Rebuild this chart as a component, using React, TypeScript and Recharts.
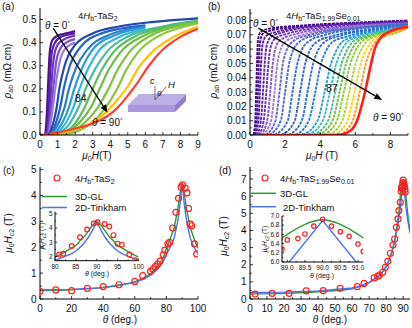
import React from "react";
import { ComposedChart, Line, XAxis, YAxis, ReferenceLine } from "recharts";

const FONT = "'Liberation Sans', Arial, Helvetica, sans-serif";

// (a) 4Hb-TaS2 : rho_ab vs mu0H, theta = 0 ... 90 deg  [H (T), rho (mOhm cm)]
const A_COLORS = [
  "#4b0c8c", "#5a1fa8", "#6a35c0", "#7b4fd0", "#9a7be0",
  "#2148b0", "#2563c0", "#2a7dcc", "#2e9ad8", "#33b5e5",
  "#3fbf9f", "#5dbb63", "#6abd45", "#7dc242", "#8cc63e",
  "#ffc20e", "#ff3b2f",
];
const A_CURVES: number[][][] = [
  [[0.3, 0], [0.4, 0.1], [0.48, 0.25], [0.56, 0.36], [0.7, 0.41], [1, 0.43], [1.5, 0.44], [2, 0.45]],
  [[0.35, 0], [0.47, 0.1], [0.56, 0.24], [0.66, 0.35], [0.85, 0.4], [1.2, 0.425], [2, 0.44]],
  [[0.4, 0], [0.55, 0.1], [0.66, 0.23], [0.78, 0.33], [1, 0.39], [1.4, 0.415], [2, 0.43]],
  [[0.45, 0], [0.63, 0.1], [0.78, 0.22], [0.93, 0.32], [1.2, 0.38], [1.6, 0.405], [2, 0.415]],
  [[0.5, 0], [0.7, 0.1], [0.9, 0.22], [1.1, 0.31], [1.4, 0.37], [2, 0.4]],
  [[0.5, 0], [0.75, 0.05], [0.95, 0.12], [1.1, 0.2], [1.4, 0.3], [2, 0.39], [3, 0.44], [4.5, 0.47], [6.5, 0.49], [9, 0.505]],
  [[0.55, 0], [0.9, 0.05], [1.15, 0.12], [1.35, 0.2], [1.7, 0.3], [2.3, 0.38], [3.5, 0.44], [6, 0.475]],
  [[0.6, 0], [1.05, 0.05], [1.4, 0.12], [1.65, 0.2], [2.05, 0.29], [2.7, 0.37], [4, 0.435], [6, 0.47]],
  [[0.7, 0], [1.25, 0.05], [1.65, 0.12], [1.95, 0.2], [2.4, 0.29], [3, 0.37], [4.2, 0.43], [6, 0.465]],
  [[0.8, 0], [1.45, 0.05], [1.9, 0.12], [2.25, 0.2], [2.7, 0.28], [3.3, 0.36], [4.4, 0.42], [6, 0.46]],
  [[0.9, 0], [1.7, 0.05], [2.2, 0.12], [2.6, 0.2], [3.1, 0.28], [3.8, 0.36], [5.1, 0.43], [7, 0.47], [9, 0.495]],
  [[1, 0], [2, 0.05], [2.55, 0.12], [3, 0.2], [3.5, 0.28], [4.2, 0.36], [5.5, 0.43], [7, 0.465], [9, 0.493]],
  [[1.1, 0], [2.2, 0.05], [2.9, 0.12], [3.4, 0.2], [3.9, 0.28], [4.6, 0.36], [5.9, 0.43], [7.5, 0.47], [9, 0.49]],
  [[1.2, 0], [2.5, 0.05], [3.3, 0.12], [3.9, 0.2], [4.4, 0.28], [5.1, 0.36], [6.3, 0.43], [7.8, 0.47], [9, 0.487]],
  [[1.3, 0], [2.9, 0.05], [3.75, 0.12], [4.4, 0.2], [4.9, 0.28], [5.6, 0.36], [6.8, 0.43], [8, 0.465], [9, 0.483]],
  [[0.8, 0], [2, 0.025], [3, 0.055], [3.9, 0.11], [4.5, 0.16], [5, 0.21], [5.6, 0.29], [6.4, 0.36], [7.5, 0.42], [9, 0.47]],
  [[0, 0], [1, 0.01], [2, 0.028], [3, 0.05], [3.9, 0.085], [4.5, 0.125], [5, 0.17], [5.5, 0.22], [6.2, 0.3], [7, 0.37], [8, 0.425], [9, 0.46]],
];

// (b) 4Hb-TaS1.99Se0.01 : rho_ab vs mu0H, theta = 0 ... 90 deg
const B_COLORS = [
  "#3d0a80", "#4a1090", "#55179f", "#6020aa", "#6e2fb8", "#8a55c8", "#a07cd8",
  "#6d63cc", "#4a6ed0", "#3b6cc8", "#3468c4", "#2f6fc8", "#2c7cd0",
  "#28a0d8", "#3cbcc0", "#4cbf80", "#6cc24a", "#8cc63f", "#b4d235",
  "#ffd21f", "#ff9a1f", "#ff1f1f",
];
const B_CURVES: number[][][] = [
  [[0.2, 0], [0.3, 0.01], [0.35, 0.03], [0.4, 0.05], [0.45, 0.066], [0.6, 0.072], [1, 0.074], [3, 0.0765], [6, 0.0785], [9, 0.08]],
  [[0.25, 0], [0.38, 0.01], [0.45, 0.03], [0.5, 0.05], [0.56, 0.064], [0.75, 0.071], [1.2, 0.073], [3, 0.076], [6, 0.078], [9, 0.0795]],
  [[0.3, 0], [0.48, 0.01], [0.56, 0.03], [0.63, 0.05], [0.7, 0.062], [0.9, 0.069], [1.5, 0.072], [4, 0.0765], [9, 0.079]],
  [[0.4, 0], [0.62, 0.01], [0.74, 0.03], [0.84, 0.05], [0.93, 0.061], [1.15, 0.068], [1.8, 0.0715], [4, 0.076], [9, 0.079]],
  [[0.5, 0], [0.78, 0.01], [0.93, 0.03], [1.05, 0.05], [1.15, 0.06], [1.4, 0.067], [2.2, 0.071], [5, 0.076], [9, 0.0785]],
  [[0.6, 0], [0.98, 0.01], [1.15, 0.03], [1.3, 0.05], [1.42, 0.059], [1.7, 0.066], [2.6, 0.0705], [5, 0.075], [9, 0.078]],
  [[0.7, 0], [1.2, 0.01], [1.4, 0.03], [1.56, 0.05], [1.7, 0.058], [2, 0.065], [3, 0.07], [5.5, 0.075], [9, 0.078]],
  [[0.9, 0], [1.45, 0.01], [1.68, 0.03], [1.87, 0.05], [2.05, 0.058], [2.4, 0.065], [3.4, 0.07], [6, 0.075], [9, 0.0775]],
  [[1.1, 0], [1.75, 0.01], [2, 0.03], [2.23, 0.05], [2.42, 0.058], [2.8, 0.065], [3.8, 0.07], [6, 0.0745], [9, 0.0775]],
  [[1.4, 0], [2.15, 0.01], [2.42, 0.03], [2.7, 0.05], [2.9, 0.058], [3.3, 0.065], [4.3, 0.07], [6.5, 0.0745], [9, 0.077]],
  [[1.8, 0], [2.55, 0.01], [2.85, 0.03], [3.15, 0.05], [3.37, 0.058], [3.8, 0.065], [4.8, 0.0695], [7, 0.074], [9, 0.077]],
  [[2.2, 0], [2.95, 0.01], [3.28, 0.03], [3.6, 0.05], [3.83, 0.058], [4.25, 0.065], [5.2, 0.0695], [7, 0.0735], [9, 0.0765]],
  [[2.6, 0], [3.35, 0.01], [3.72, 0.03], [4.05, 0.05], [4.3, 0.058], [4.7, 0.065], [5.6, 0.069], [7.5, 0.0735], [9, 0.0765]],
  [[3, 0], [3.85, 0.01], [4.25, 0.03], [4.62, 0.05], [4.88, 0.058], [5.25, 0.065], [6, 0.069], [7.5, 0.073], [9, 0.076]],
  [[3.3, 0], [4.15, 0.01], [4.55, 0.03], [4.92, 0.05], [5.18, 0.058], [5.55, 0.065], [6.3, 0.069], [7.8, 0.073], [9, 0.076]],
  [[3.6, 0], [4.45, 0.01], [4.85, 0.03], [5.22, 0.05], [5.48, 0.058], [5.85, 0.065], [6.6, 0.069], [8, 0.073], [9, 0.0755]],
  [[3.9, 0], [4.7, 0.01], [5.1, 0.03], [5.47, 0.05], [5.73, 0.058], [6.1, 0.065], [6.8, 0.069], [8, 0.0725], [9, 0.0755]],
  [[4.2, 0], [4.95, 0.01], [5.35, 0.03], [5.72, 0.05], [5.98, 0.058], [6.35, 0.065], [7, 0.069], [8.2, 0.0725], [9, 0.0755]],
  [[4.5, 0], [5.25, 0.01], [5.65, 0.03], [6.02, 0.05], [6.28, 0.058], [6.62, 0.065], [7.25, 0.069], [8.3, 0.072], [9, 0.075]],
  [[4.8, 0], [5.55, 0.01], [5.95, 0.03], [6.32, 0.05], [6.56, 0.058], [6.9, 0.065], [7.5, 0.069], [8.4, 0.072], [9, 0.075]],
  [[5.1, 0], [5.85, 0.01], [6.25, 0.03], [6.6, 0.05], [6.83, 0.058], [7.15, 0.065], [7.7, 0.069], [8.5, 0.072], [9, 0.075]],
  [[0.7, 0], [5, 0], [5.6, 0.002], [6.1, 0.01], [6.55, 0.03], [6.9, 0.05], [7.1, 0.06], [7.45, 0.068], [8, 0.0725], [9, 0.0755]],
];

// (c) 4Hb-TaS2 : Hc2(theta)
const C_ANG = [0, 10, 20, 30, 40, 50, 60, 65, 70, 71.5, 73, 74.5, 76, 78, 79, 81, 82, 84, 86, 87.7, 89.3, 90.2, 91.9, 93, 94, 95, 96, 97.8, 99.2];
const C_HC2 = [0.3, 0.35, 0.32, 0.41, 0.48, 0.55, 0.68, 0.9, 1.07, 1.16, 1.25, 1.35, 1.46, 1.71, 1.89, 2.13, 2.19, 2.74, 3.35, 3.89, 4.32, 4.41, 4.28, 4.1, 3.5, 2.9, 2.83, 2.13, 1.74];
const C_FIT_ANG = [0, 20, 40, 50, 60, 65, 70, 75, 78, 80, 82, 84, 85, 86, 87, 88, 89, 90, 91, 92, 93, 94, 95, 96, 98, 100];
const C_GL = [0.33, 0.36, 0.45, 0.54, 0.67, 0.8, 0.98, 1.3, 1.6, 1.95, 2.25, 2.6, 2.77, 3.1, 3.4, 3.8, 4.2, 4.42, 4.2, 3.8, 3.4, 3.1, 2.77, 2.6, 2.25, 1.95];
const C_TK = [0.35, 0.37, 0.44, 0.52, 0.64, 0.75, 0.92, 1.2, 1.45, 1.72, 1.95, 2.2, 2.38, 2.65, 2.95, 3.35, 3.85, 4.5, 3.85, 3.35, 2.95, 2.65, 2.38, 2.2, 1.95, 1.72];

// (d) 4Hb-TaS1.99Se0.01 : Hc2(theta)
const D_ANG = [3, 13, 23, 33, 43, 53, 63, 67, 73, 75, 76, 78, 79.5, 81, 82.5, 84, 85, 86, 87, 87.5, 88.3, 88.85, 89, 89.3, 89.5, 89.75, 90, 90.25, 90.5, 90.75, 91, 91.15];
const D_HC2 = [0.29, 0.33, 0.33, 0.47, 0.49, 0.62, 0.72, 0.91, 1.23, 1.32, 1.4, 1.56, 1.85, 2.2, 2.67, 3.15, 3.5, 4.18, 4.67, 5.16, 5.64, 6.28, 6.48, 6.51, 6.61, 6.78, 6.93, 6.78, 6.66, 6.56, 6.39, 6.23];
const D_GL_ANG = [0, 20, 40, 60, 65, 70, 75, 78, 80, 82, 84, 85, 86, 87, 88, 88.5, 88.85, 89, 89.5, 90, 90.5, 91, 91.15, 91.5, 92, 93, 94];
const D_GL = [0.3, 0.33, 0.42, 0.6, 0.75, 0.95, 1.3, 1.6, 1.9, 2.35, 3.0, 3.45, 4.0, 4.7, 5.6, 6.2, 6.52, 6.6, 6.82, 6.92, 6.82, 6.6, 6.52, 6.2, 5.6, 4.7, 4.0];
const D_TK_ANG = [0, 20, 40, 60, 65, 70, 75, 78, 80, 82, 84, 85, 86, 87, 88, 89, 90, 91, 92, 93, 94];
const D_TK = [0.38, 0.4, 0.47, 0.64, 0.76, 0.97, 1.3, 1.6, 1.9, 2.35, 2.95, 3.35, 3.85, 4.4, 5.05, 5.95, 6.9, 5.95, 5.05, 4.4, 3.85];

const RED = "#ff2020";
const GREEN = "#2e9a2e";
const BLUE = "#4a72f5";

const pairs = (c: number[][]) => c.map(([x, y]) => ({ x, y }));
const zip = (xs: number[], ys: number[]) => xs.map((x, i) => ({ x, y: ys[i] }));
const isMaj = (major: number[], v: number) => major.some((t) => Math.abs(t - v) < 1e-9);

type TickOpts = { major: number[]; fmt: (v: number) => string; fs?: number; m: number; len?: number };

// custom ticks: short inward tick marks, labels only on major values
function xTick({ major, fmt, fs = 10, m, len = 3 }: TickOpts) {
  return (p: any) => {
    const v = Number(p.payload.value);
    const big = isMaj(major, v);
    const y0 = p.y - m;
    return (
      <g>
        <line x1={p.x} x2={p.x} y1={y0} y2={y0 - (big ? len : len * 0.6)} stroke="#000" strokeWidth={0.8} />
        {big && (
          <text x={p.x} y={p.y} textAnchor="middle" fontSize={fs} fontFamily={FONT} fill="#111">
            {fmt(v)}
          </text>
        )}
      </g>
    );
  };
}

function yTick({ major, fmt, fs = 10, m, len = 3 }: TickOpts) {
  return (p: any) => {
    const v = Number(p.payload.value);
    const big = isMaj(major, v);
    const x0 = p.x + m;
    return (
      <g>
        <line x1={x0} x2={x0 + (big ? len : len * 0.6)} y1={p.y} y2={p.y} stroke="#000" strokeWidth={0.8} />
        {big && (
          <text x={p.x} y={p.y} dy="0.35em" textAnchor="end" fontSize={fs} fontFamily={FONT} fill="#111">
            {fmt(v)}
          </text>
        )}
      </g>
    );
  };
}

const Arrow = (p: any) => {
  const { x1, y1, x2, y2 } = p;
  const a = Math.atan2(y2 - y1, x2 - x1);
  const L = 8;
  const W = 3.2;
  const bx = x2 - L * Math.cos(a);
  const by = y2 - L * Math.sin(a);
  const pts = `${x2},${y2} ${bx - W * Math.sin(a)},${by + W * Math.cos(a)} ${bx + W * Math.sin(a)},${by - W * Math.cos(a)}`;
  return (
    <g>
      <line x1={x1} y1={y1} x2={bx} y2={by} stroke="#000" strokeWidth={1.3} />
      <polygon points={pts} fill="#000" />
    </g>
  );
};

const frame = (xd: number[], yd: number[]) => [
  <XAxis key="ft" xAxisId="top" orientation="top" type="number" domain={xd} tick={false} tickLine={false} height={0} axisLine={{ stroke: "#000" }} />,
  <YAxis key="fr" yAxisId="right" orientation="right" type="number" domain={yd} tick={false} tickLine={false} width={0} axisLine={{ stroke: "#000" }} />,
];

const range = (a: number, b: number, s: number) => {
  const out: number[] = [];
  for (let v = a; v <= b + 1e-9; v += s) out.push(Math.round(v * 1000) / 1000);
  return out;
};

function PanelA() {
  return (
    <ComposedChart width={206} height={164} margin={{ top: 8, right: 8, bottom: 0, left: 0 }}>
      <XAxis dataKey="x" type="number" domain={[0, 9]} ticks={range(0, 9, 0.5)} interval={0} tickSize={0} tickMargin={13} tickLine={false}
        height={29} axisLine={{ stroke: "#000" }} allowDataOverflow
        tick={xTick({ major: range(0, 9, 1), fmt: (v) => String(v), m: 13 })} />
      <YAxis type="number" domain={[0, 0.55]} ticks={range(0, 0.5, 0.05)} interval={0} tickSize={0} tickMargin={3.5} tickLine={false}
        width={40} axisLine={{ stroke: "#000" }} allowDataOverflow
        tick={yTick({ major: range(0, 0.5, 0.1), fmt: (v) => v.toFixed(1), m: 3.5 })} />
      {frame([0, 9], [0, 0.55])}
      {A_CURVES.map((c, i) => (
        <Line key={i} data={pairs(c)} dataKey="y" type="monotone" stroke={A_COLORS[i]} strokeWidth={2.2}
          dot={false} isAnimationActive={false} />
      ))}
      <ReferenceLine segment={[{ x: 0.76, y: 0.462 }, { x: 3.85, y: 0.096 }]} shape={Arrow} ifOverflow="visible" />
    </ComposedChart>
  );
}

function PanelB() {
  return (
    <ComposedChart width={206} height={164} margin={{ top: 9, right: 4, bottom: 0, left: 0 }}>
      <XAxis dataKey="x" type="number" domain={[0, 9]} ticks={range(0, 9, 1)} interval={0} tickSize={0} tickMargin={13} tickLine={false}
        height={29} axisLine={{ stroke: "#000" }} allowDataOverflow
        tick={xTick({ major: [0, 2, 4, 6, 8], fmt: (v) => String(v), m: 13 })} />
      <YAxis type="number" domain={[0, 0.088]} ticks={range(0, 0.085, 0.005)} interval={0} tickSize={0} tickMargin={3.5} tickLine={false}
        width={44} axisLine={{ stroke: "#000" }} allowDataOverflow
        tick={yTick({ major: range(0, 0.08, 0.01), fmt: (v) => v.toFixed(2), m: 3.5 })} />
      {frame([0, 9], [0, 0.088])}
      {B_CURVES.map((c, i) => {
        const last = i === B_CURVES.length - 1;
        return (
          <Line key={i} data={pairs(c)} dataKey="y" type="monotone" stroke={B_COLORS[i]} strokeWidth={last ? 2.6 : 1.9}
            strokeDasharray={last ? undefined : "3 1"} dot={false} isAnimationActive={false} />
        );
      })}
      <ReferenceLine segment={[{ x: 0.48, y: 0.0746 }, { x: 7.53, y: 0.0245 }]} shape={Arrow} ifOverflow="visible" />
    </ComposedChart>
  );
}

function HcChart(props: {
  w: number; h: number; margin: any; yw: number; xh: number; xd: number[]; yd: number[];
  xt: number[]; xmaj: number[]; yt: number[]; ymaj: number[]; xfmt: (v: number) => string; yfmt: (v: number) => string;
  fs: number; xm: number; ym: number; len: number; ang: number[]; val: number[]; glA: number[]; gl: number[]; tkA: number[]; tk: number[]; r: number;
}) {
  const p = props;
  return (
    <ComposedChart width={p.w} height={p.h} margin={p.margin}>
      <XAxis dataKey="x" type="number" domain={p.xd} ticks={p.xt} interval={0} tickSize={0} tickMargin={p.xm} tickLine={false}
        height={p.xh} axisLine={{ stroke: "#000" }} allowDataOverflow
        tick={xTick({ major: p.xmaj, fmt: p.xfmt, fs: p.fs, m: p.xm, len: p.len })} />
      <YAxis type="number" domain={p.yd} ticks={p.yt} interval={0} tickSize={0} tickMargin={p.ym} tickLine={false}
        width={p.yw} axisLine={{ stroke: "#000" }} allowDataOverflow
        tick={yTick({ major: p.ymaj, fmt: p.yfmt, fs: p.fs, m: p.ym, len: p.len })} />
      {frame(p.xd, p.yd)}
      <Line data={zip(p.glA, p.gl)} dataKey="y" type="monotone" stroke={GREEN} strokeWidth={1.4} dot={false} isAnimationActive={false} />
      <Line data={zip(p.tkA, p.tk)} dataKey="y" type="linear" stroke={BLUE} strokeWidth={1.4} dot={false} isAnimationActive={false} />
      <Line data={zip(p.ang, p.val)} dataKey="y" stroke="none" strokeWidth={0} isAnimationActive={false}
        dot={{ r: p.r, fill: "none", stroke: RED, strokeWidth: 1.2 }} />
    </ComposedChart>
  );
}

const T = (props: any) => <text fontFamily={FONT} fill="#111" {...props} />;
const I = (props: any) => <tspan fontStyle="italic" {...props} />;

function Overlay() {
  return (
    <svg width={412} height={328} style={{ position: "absolute", left: 0, top: 0, pointerEvents: "none" }}>
      {/* panel letters */}
      <T x={2} y={10} fontSize={10}>(a)</T>
      <T x={208} y={10} fontSize={10}>(b)</T>
      <T x={3} y={174} fontSize={10}>(c)</T>
      <T x={219} y={174} fontSize={10}>(d)</T>

      {/* (a) */}
      <T x={78} y={18.5} fontSize={9.5}>4<I>H</I><tspan fontSize={7} dy={2}>b</tspan><tspan dy={-2}>-TaS</tspan><tspan fontSize={7} dy={2}>2</tspan></T>
      <T x={45} y={28.5} fontSize={10}><I>θ</I> = 0<tspan fontSize={6} dy={-4}>°</tspan></T>
      <T x={92} y={125.5} fontSize={10}><I>θ</I> = 90<tspan fontSize={6} dy={-4}>°</tspan></T>
      <T x={75} y={101.5} fontSize={10.5}>84</T>
      <T x={97} y={159} fontSize={10} textAnchor="middle"><I>μ</I><tspan fontSize={7} dy={2}>0</tspan><I dy={-2}>H</I>(T)</T>
      <T transform="translate(11,71) rotate(-90)" fontSize={10} textAnchor="middle"><I>ρ</I><tspan fontSize={7} dy={2}>ab</tspan><tspan dy={-2}> (mΩ cm)</tspan></T>
      {/* sample sketch */}
      <polygon points="128,105 139,94 186,94 175,105" fill="#bcaee6" />
      <polygon points="128,105 175,105 175,112 128,112" fill="#a996dc" />
      <polygon points="175,105 186,94 186,101 175,112" fill="#9380cc" />
      <line x1={155} y1={100} x2={155} y2={86} stroke="#555" strokeWidth={0.8} />
      <line x1={155} y1={100} x2={166} y2={87} stroke="#555" strokeWidth={0.8} />
      <T x={150} y={84} fontSize={9} fontStyle="italic">c</T>
      <T x={168} y={88} fontSize={9.5} fontStyle="italic">H</T>
      <T x={157} y={96} fontSize={8} fontStyle="italic">θ</T>

      {/* (b) */}
      <T x={286} y={18.5} fontSize={9.5}>4<I>H</I><tspan fontSize={7} dy={2}>b</tspan><tspan dy={-2}>-TaS</tspan><tspan fontSize={7} dy={2}>1.99</tspan><tspan dy={-2}>Se</tspan><tspan fontSize={7} dy={2}>0.01</tspan></T>
      <T x={253} y={26.5} fontSize={10}><I>θ</I> = 0<tspan fontSize={6} dy={-4}>°</tspan></T>
      <T x={373} y={121} fontSize={10}><I>θ</I> = 90<tspan fontSize={6} dy={-4}>°</tspan></T>
      <T x={326} y={92} fontSize={10.5}>87</T>
      <T x={322} y={159} fontSize={10} textAnchor="middle"><I>μ</I><tspan fontSize={7} dy={2}>0</tspan><I dy={-2}>H</I> (T)</T>
      <T transform="translate(217,71) rotate(-90)" fontSize={10} textAnchor="middle"><I>ρ</I><tspan fontSize={7} dy={2}>ab</tspan><tspan dy={-2}> (mΩ cm)</tspan></T>

      {/* (c) */}
      <circle cx={57} cy={178} r={3} fill="none" stroke={RED} strokeWidth={1.2} />
      <T x={75} y={181.5} fontSize={9.5}>4<I>H</I><tspan fontSize={7} dy={2}>b</tspan><tspan dy={-2}>-TaS</tspan><tspan fontSize={7} dy={2}>2</tspan></T>
      <line x1={42} x2={67} y1={196.5} y2={196.5} stroke={GREEN} strokeWidth={1.5} />
      <T x={75} y={200} fontSize={9.5}>3D-GL</T>
      <line x1={42} x2={67} y1={207.5} y2={207.5} stroke={BLUE} strokeWidth={1.5} />
      <T x={75} y={211} fontSize={9.5}>2D-Tinkham</T>
      <T x={120} y={323} fontSize={10} textAnchor="middle"><I>θ</I> (deg.)</T>
      <T transform="translate(12,233) rotate(-90)" fontSize={10} textAnchor="middle"><I>μ</I><tspan fontSize={7} dy={2}>0</tspan><I dy={-2}>H</I><tspan fontSize={7} dy={2}>c2</tspan><tspan dy={-2}> (T)</tspan></T>
      <T x={97} y={276} fontSize={7} textAnchor="middle"><I>θ</I> (deg.)</T>
      <T transform="translate(44,236) rotate(-90)" fontSize={6.5} textAnchor="middle"><I>μ</I><tspan fontSize={5} dy={1.5}>0</tspan><I dy={-1.5}>H</I><tspan fontSize={5} dy={1.5}>c2</tspan><tspan dy={-1.5}> (T)</tspan></T>

      {/* (d) */}
      <circle cx={265} cy={178} r={3} fill="none" stroke={RED} strokeWidth={1.2} />
      <T x={280} y={181.5} fontSize={9.5}>4<I>H</I><tspan fontSize={7} dy={2}>b</tspan><tspan dy={-2}>-TaS</tspan><tspan fontSize={7} dy={2}>1.99</tspan><tspan dy={-2}>Se</tspan><tspan fontSize={7} dy={2}>0.01</tspan></T>
      <line x1={251} x2={276} y1={193.3} y2={193.3} stroke={GREEN} strokeWidth={1.5} />
      <T x={280} y={197} fontSize={9.5}>3D-GL</T>
      <line x1={251} x2={276} y1={206.7} y2={206.7} stroke={BLUE} strokeWidth={1.5} />
      <T x={283} y={210.5} fontSize={9.5}>2D-Tinkham</T>
      <T x={330} y={323} fontSize={10} textAnchor="middle"><I>θ</I> (deg.)</T>
      <T transform="translate(227,236) rotate(-90)" fontSize={10} textAnchor="middle"><I>μ</I><tspan fontSize={7} dy={2}>0</tspan><I dy={-2}>H</I><tspan fontSize={7} dy={2}>c2</tspan><tspan dy={-2}> (T)</tspan></T>
      <T x={322} y={278} fontSize={7} textAnchor="middle"><I>θ</I> (deg.)</T>
      <T transform="translate(267,239) rotate(-90)" fontSize={6.5} textAnchor="middle"><I>μ</I><tspan fontSize={5} dy={1.5}>0</tspan><I dy={-1.5}>H</I><tspan fontSize={5} dy={1.5}>c2</tspan><tspan dy={-1.5}> (T)</tspan></T>
    </svg>
  );
}

const box = (left: number, top: number): React.CSSProperties => ({ position: "absolute", left, top });

export default function App() {
  return (
    <div style={{ position: "absolute", left: 0, top: 0, width: 412, height: 328, background: "#fff", fontFamily: FONT }}>
      <div style={box(0, 0)}><PanelA /></div>
      <div style={box(206, 0)}><PanelB /></div>
      <div style={box(0, 164)}>
        <HcChart w={206} h={164} margin={{ top: 3, right: 8, bottom: 0, left: 0 }} yw={40} xh={29}
          xd={[0, 100]} yd={[0, 5.1]} xt={range(0, 100, 10)} xmaj={range(0, 100, 20)} yt={range(0, 5, 0.5)} ymaj={range(0, 5, 1)}
          xfmt={(v) => String(v)} yfmt={(v) => String(v)} fs={10} xm={13} ym={3.5} len={3}
          ang={C_ANG} val={C_HC2} glA={C_FIT_ANG} gl={C_GL} tkA={C_FIT_ANG} tk={C_TK} r={3} />
      </div>
      <div style={box(206, 164)}>
        <HcChart w={206} h={164} margin={{ top: 3, right: 2, bottom: 0, left: 0 }} yw={44} xh={29}
          xd={[0, 94]} yd={[0, 7.7]} xt={range(0, 90, 5)} xmaj={range(0, 90, 10)} yt={range(0, 7.5, 0.5)} ymaj={range(0, 7, 1)}
          xfmt={(v) => String(v)} yfmt={(v) => String(v)} fs={10} xm={13} ym={3.5} len={3}
          ang={D_ANG} val={D_HC2} glA={D_GL_ANG} gl={D_GL} tkA={D_TK_ANG} tk={D_TK} r={3} />
      </div>
      <div style={box(15, 200)}>
        <HcChart w={135} h={82} margin={{ top: 11.7, right: 11.5, bottom: 0, left: 0 }} yw={40} xh={21.3}
          xd={[80, 100]} yd={[1.7, 5.15]} xt={range(80, 100, 2.5)} xmaj={range(80, 100, 5)} yt={range(2, 5, 0.5)} ymaj={range(2, 5, 1)}
          xfmt={(v) => String(v)} yfmt={(v) => String(v)} fs={6.5} xm={8} ym={2.5} len={2}
          ang={C_ANG} val={C_HC2} glA={C_FIT_ANG} gl={C_GL} tkA={C_FIT_ANG} tk={C_TK} r={2.4} />
      </div>
      <div style={box(240, 205)}>
        <HcChart w={132} h={80} margin={{ top: 11, right: 8.7, bottom: 0, left: 0 }} yw={42} xh={23}
          xd={[88.85, 91.15]} yd={[6, 7]} xt={range(89, 91, 0.25)} xmaj={range(89, 91, 0.5)} yt={range(6, 7, 0.1)} ymaj={range(6, 7, 0.2)}
          xfmt={(v) => v.toFixed(1)} yfmt={(v) => v.toFixed(1)} fs={6.5} xm={8} ym={2.5} len={2}
          ang={D_ANG} val={D_HC2} glA={D_GL_ANG} gl={D_GL} tkA={D_TK_ANG} tk={D_TK} r={2.2} />
      </div>
      <Overlay />
    </div>
  );
}
